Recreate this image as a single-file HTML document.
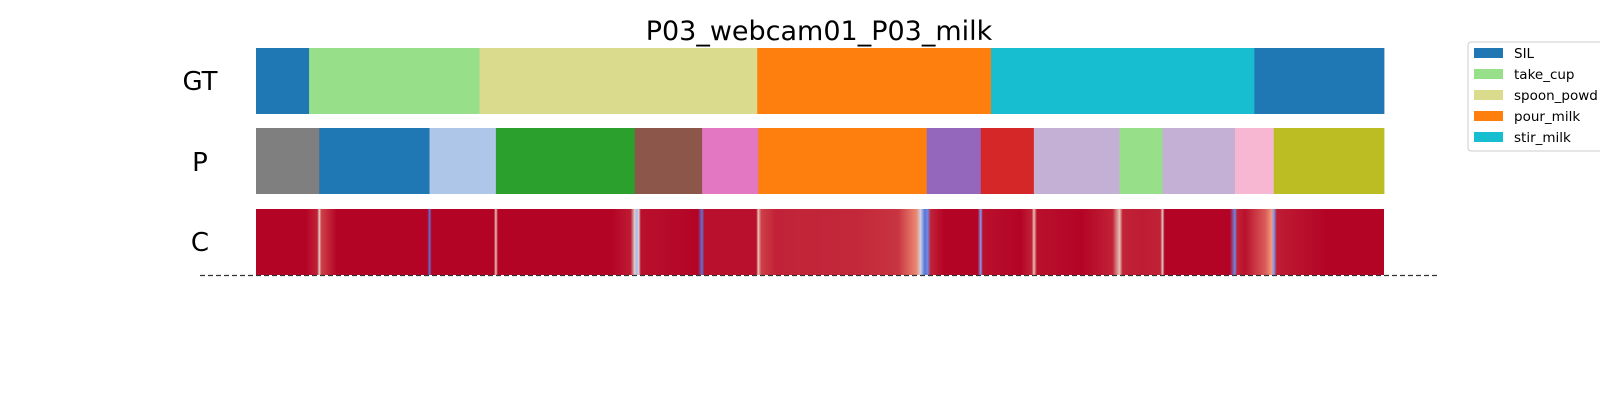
<!DOCTYPE html>
<html><head><meta charset="utf-8"><style>
body{margin:0;background:#fff;font-family:"Liberation Sans","DejaVu Sans",sans-serif}
</style></head><body>
<svg id="chart" width="1600" height="400" xmlns="http://www.w3.org/2000/svg">
<text x="819" y="40" font-size="27" text-anchor="middle" font-family="DejaVu Sans, Liberation Sans, sans-serif">P03_webcam01_P03_milk</text>
<text x="200" y="90" font-size="26" text-anchor="middle" font-family="DejaVu Sans, Liberation Sans, sans-serif">GT</text>
<text x="200" y="171" font-size="26" text-anchor="middle" font-family="DejaVu Sans, Liberation Sans, sans-serif">P</text>
<text x="200" y="251" font-size="26" text-anchor="middle" font-family="DejaVu Sans, Liberation Sans, sans-serif">C</text>
<defs><linearGradient id="confGrad" x1="0" x2="1" y1="0" y2="0"></linearGradient></defs>
<g id="gt"></g><g id="pred"></g>
<rect id="confRect" fill="url(#confGrad)"/>
<line x1="200" x2="1439" y1="275.5" y2="275.5" stroke="#333" stroke-width="1.3" stroke-dasharray="5,3"/>
<g id="legend">
<rect x="1468" y="42" width="140" height="109" rx="3" fill="#fff" stroke="#ccc"/>
</g>
</svg>
<script>
const gtBounds=[251,303,470,742,971,1229,1356];
const gtLabels=["SIL","take_cup","spoon_powder","pour_milk","stir_milk","SIL"];
const predBounds=[251,313,421,486,622,688,743,908,961,1013,1097,1139,1210,1248,1356];
const predColors=["#7f7f7f","#1f77b4","#aec7e8","#2ca02c","#8c564b","#e377c2","#ff7f0e","#9467bd","#d62728","#c5b0d5","#98df8a","#c5b0d5","#f7b6d2","#bcbd22"];
const confPos=[251,300,311,313,315,330,419,421,423,484,486,488,600,618,622,624,626,628,684,688,690,741,743,746,760,840,880,898,902,906,909,912,925,958,961,963,1000,1011,1013,1016,1060,1090,1097,1100,1120,1137,1139,1141,1205,1210,1212,1220,1240,1246,1248,1251,1300,1356];
const confVal=[1.0,1.0,0.95,0.55,0.9,1.0,1.0,0.1,1.0,1.0,0.6,1.0,1.0,0.96,0.55,0.3,0.55,0.98,1.0,0.1,0.98,0.98,0.6,0.9,0.95,0.94,0.92,0.78,0.45,0.1,0.15,0.95,1.0,1.0,0.2,0.98,1.0,0.95,0.6,0.98,1.0,0.95,0.6,0.95,0.96,0.95,0.55,1.0,1.0,0.15,0.95,0.98,0.85,0.75,0.2,0.96,1.0,1.0];
const legendLabels=["SIL","take_cup","spoon_powd","pour_milk","stir_milk"];
const legendColors=["#1f77b4","#98df8a","#dbdb8d","#ff7f0e","#17becf"];
const gtColorMap={"SIL":"#1f77b4","take_cup":"#98df8a","spoon_powder":"#dbdb8d","pour_milk":"#ff7f0e","stir_milk":"#17becf"};
const NS="http://www.w3.org/2000/svg";
const x0=251,x1=1356,px0=256,px1=1384;
const X=v=>px0+(v-x0)*(px1-px0)/(x1-x0);
function seg(g,bounds,colors,y,h,name){
 for(let i=0;i<bounds.length-1;i++){
  const r=document.createElementNS(NS,'rect');
  
  
  r.setAttribute('x',X(bounds[i]));r.setAttribute('width',X(bounds[i+1])-X(bounds[i])+0.4);
  r.setAttribute('y',y);r.setAttribute('height',h);r.setAttribute('fill',colors[i]);
  g.appendChild(r);
 }
}
seg(document.getElementById('gt'),gtBounds,gtLabels.map(l=>gtColorMap[l]),48,66,'gt-segment');
seg(document.getElementById('pred'),predBounds,predColors,128,66,'pred-segment');
const stops=[[0,[59,76,192]],[0.25,[141,176,254]],[0.5,[221,220,220]],[0.75,[244,154,123]],[1,[180,4,38]]];
function cw(v){for(let i=0;i<stops.length-1;i++){if(v<=stops[i+1][0]){const t=(v-stops[i][0])/(stops[i+1][0]-stops[i][0]);const a=stops[i][1],b=stops[i+1][1];return 'rgb('+a.map((c,k)=>Math.round(c+(b[k]-c)*t)).join(',')+')';}}return 'rgb(180,4,38)';}
const grad=document.getElementById('confGrad');
confPos.forEach((p,i)=>{const s=document.createElementNS(NS,'stop');s.setAttribute('offset',(p-x0)/(x1-x0));s.setAttribute('stop-color',cw(confVal[i]));grad.appendChild(s);});
const cr=document.getElementById('confRect');
cr.setAttribute('x',px0);cr.setAttribute('width',px1-px0);cr.setAttribute('y',209);cr.setAttribute('height',66);
const lg=document.getElementById('legend');
legendLabels.forEach((l,i)=>{
 const r=document.createElementNS(NS,'rect');
 
 
 r.setAttribute('x',1474);r.setAttribute('y',48+i*21);r.setAttribute('width',29);r.setAttribute('height',10);r.setAttribute('fill',legendColors[i]);
 lg.appendChild(r);
 const t=document.createElementNS(NS,'text');
 
 
 t.setAttribute('x',1514);t.setAttribute('y',58+i*21);t.setAttribute('font-size','13.5');t.setAttribute('font-family','DejaVu Sans, Liberation Sans, sans-serif');
 t.textContent=l;lg.appendChild(t);
});
</script>
</body></html>
